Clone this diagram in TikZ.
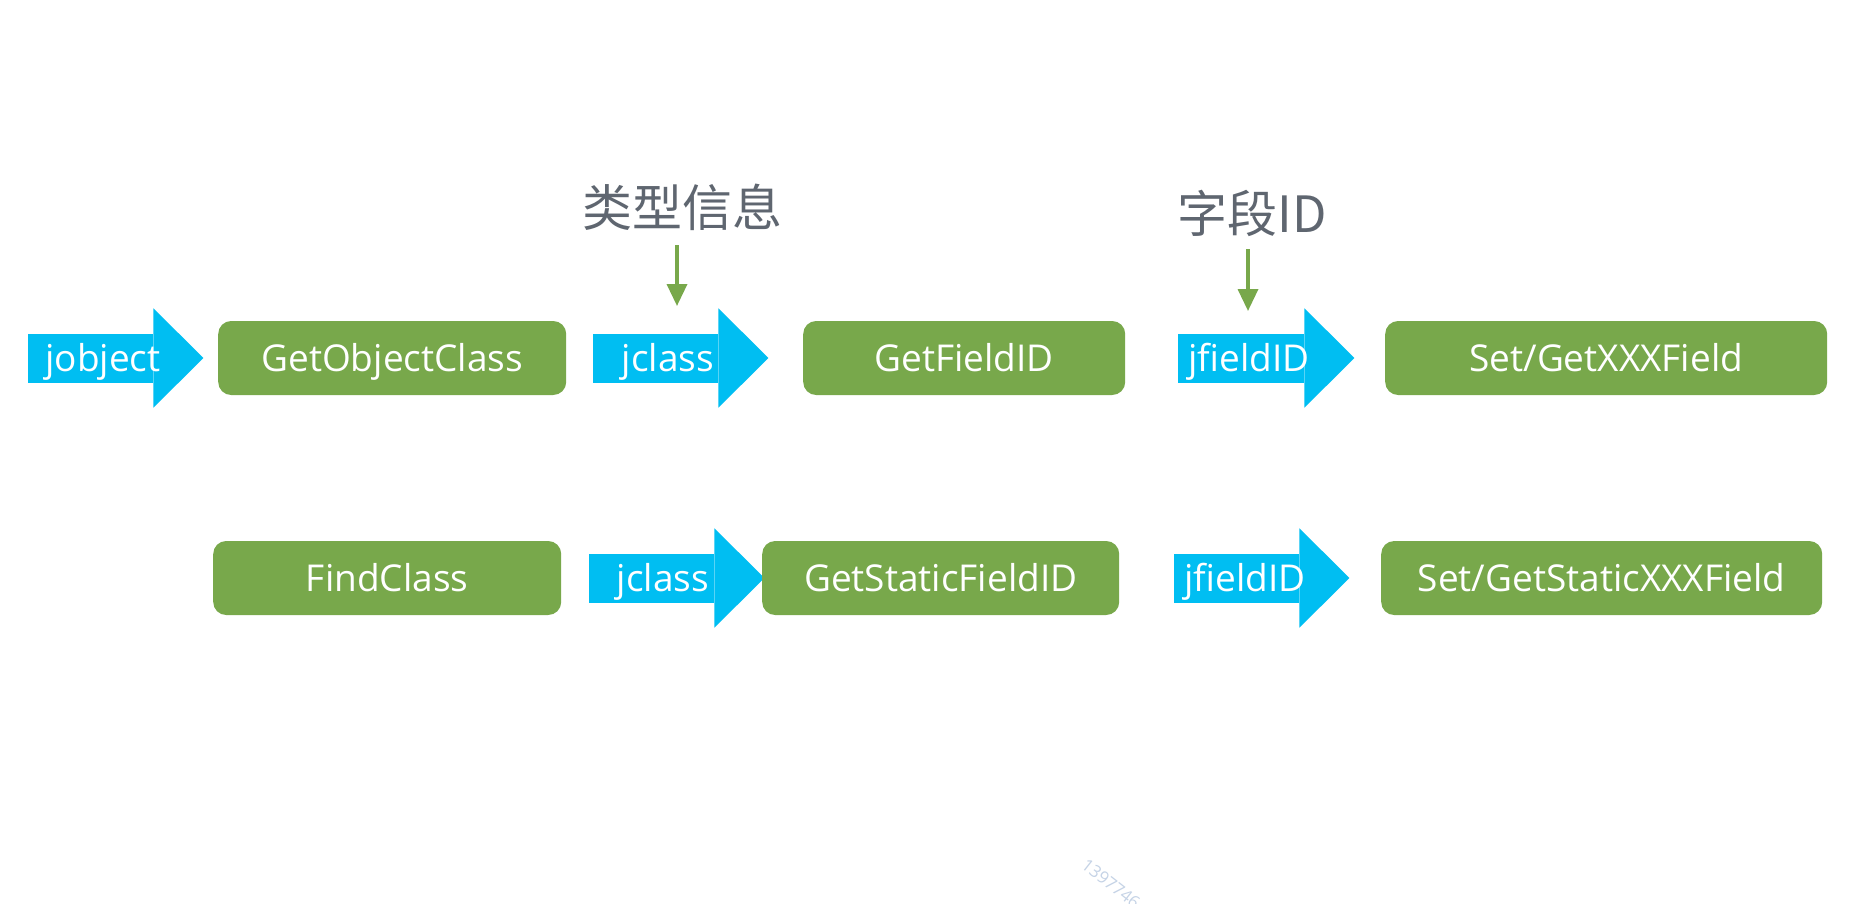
\documentclass[tikz,border=0pt]{standalone}
\usepackage{fontspec}
\setmainfont{Open Sans}
\newfontfamily\cjk{Noto Sans CJK SC}
\usetikzlibrary{calc,arrows.meta}
\definecolor{cyanC}{HTML}{00BEF2}
\definecolor{greenC}{HTML}{78A84B}
\definecolor{grayC}{HTML}{5F6670}
\definecolor{wmC}{HTML}{C5D3E6}
\newcommand{\argarrow}[6]{%
  \node[argbody, minimum width=#3pt] (#1) at (#2,#4) {};
  \fill[cyanC] (#1.north east) -- ++(0,-25) -- ($(#1.east)+(50,0)$) -- ($(#1.south east)+(0,25)$) -- cycle;
  \node[argtext] (#1t) at (#5,#4) {#6};
}
\begin{document}
\begin{tikzpicture}[x=1pt,y=-1pt,
  fnbox/.style={fill=greenC, rounded corners=13pt, text=white, minimum height=74pt, inner sep=0pt, anchor=west,
    font=\fontsize{37}{40}\selectfont, text height=34pt, text depth=7pt},
  argbody/.style={fill=cyanC, minimum height=49pt, inner sep=0pt, anchor=west},
  argtext/.style={text=white, font=\fontsize{37}{40}\selectfont, inner sep=0pt, text height=34pt, text depth=7pt},
  note/.style={text=grayC, font=\cjk\fontsize{50}{54}\selectfont, inner sep=0pt},
  hint/.style={draw=greenC, line width=3.5pt, -{Triangle[length=22pt,width=20pt]}},
  wmark/.style={text=wmC, font=\fontsize{17}{17}\selectfont, inner sep=0pt}
]
\fill[white] (0,0) rectangle (1876,904);
\useasboundingbox (0,0) rectangle (1876,904);

% row 1
\argarrow{aobj}{28}{125}{358}{103}{jobject}
\node[fnbox, minimum width=348pt] (getobj) at (218,358) {GetObjectClass};
\argarrow{acls}{593}{125}{358}{668}{jclass}
\node[fnbox, minimum width=322pt] (getfid) at (803,358) {GetFieldID};
\argarrow{afid}{1178}{126}{358}{1249}{jfieldID}
\node[fnbox, minimum width=442pt] (setget) at (1385,358) {Set/GetXXXField};

% row 2
\node[fnbox, minimum width=348pt] (findcls) at (213,578) {FindClass};
\argarrow{acls2}{589}{125}{578}{663}{jclass}
\node[fnbox, minimum width=357pt] (getsfid) at (762,578) {GetStaticFieldID};
\argarrow{afid2}{1174}{125}{578}{1245}{jfieldID}
\node[fnbox, minimum width=441pt] (setgets) at (1381,578) {Set/GetStaticXXXField};

% notes
\node[note] (typeinfo) at (682,207) {类型信息};
\node[note] (fieldid) at (1252,213) {字段ID};
\coordinate (h1s) at (677,245);
\coordinate (h1e) at (677,306);
\coordinate (h2s) at (1248,249);
\coordinate (h2e) at (1248,311);
\draw[hint] (h1s) -- (h1e);
\draw[hint] (h2s) -- (h2e);

% watermark
\node[wmark, rotate=-38, anchor=north west] (wm) at (1088,858) {1397746};
\end{tikzpicture}
\end{document}
